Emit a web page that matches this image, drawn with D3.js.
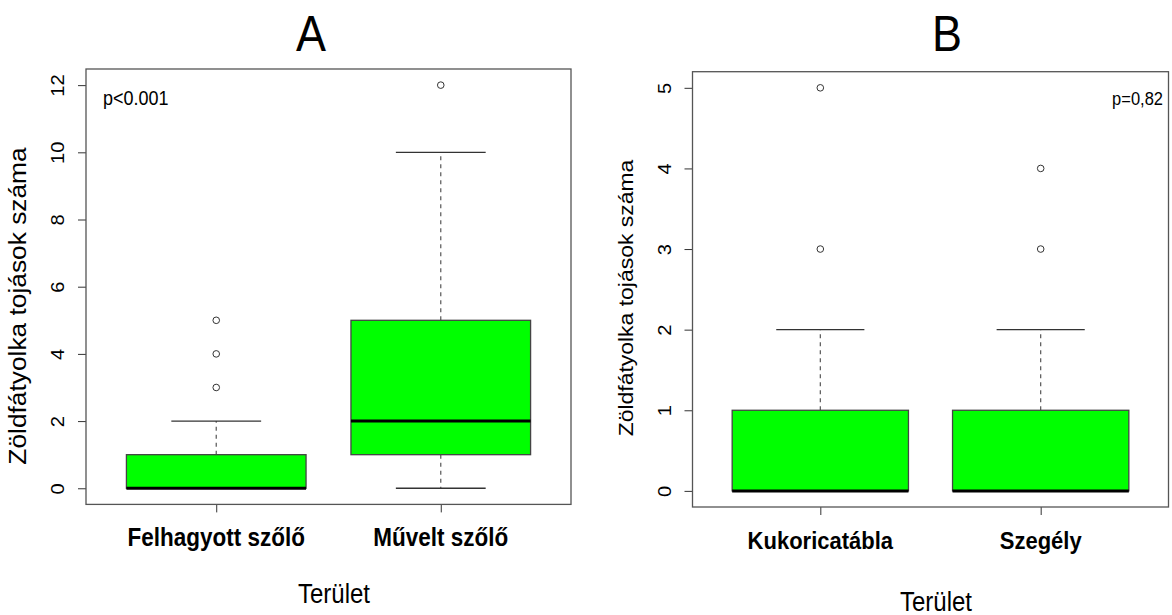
<!DOCTYPE html>
<html>
<head>
<meta charset="utf-8">
<script src="https://cdn.jsdelivr.net/npm/d3@7/dist/d3.min.js"></script>
<style>
  html, body { margin: 0; padding: 0; background: #fff; }
  svg { display: block; font-family: "Liberation Sans", Arial, sans-serif; }
</style>
</head>
<body>
<svg id="chart" width="1172" height="615"></svg>
<script>
// Panel A: abandoned vs cultivated vineyard
const groupsA = ["Felhagyott szőlő", "Művelt szőlő"];
// [lower whisker, Q1, median, Q3, upper whisker]
const statsA = [[0, 0, 0, 1, 2], [0, 1, 2, 5, 10]];
const outliersA = [[3, 4, 5], [12]];
const ticksA = [0, 2, 4, 6, 8, 10, 12];

// Panel B: maize field vs edge
const groupsB = ["Kukoricatábla", "Szegély"];
const statsB = [[0, 0, 0, 1, 2], [0, 0, 0, 1, 2]];
const outliersB = [[3, 5], [3, 4]];
const ticksB = [0, 1, 2, 3, 4, 5];

const svg = d3.select("#chart");
const SY = 1.12; // vertical stretch of the lettering

// text placed at (x, y), stretched vertically, optionally rotated
function label(g, x, y, txt, o) {
  const rot = o.rotate ? " rotate(-90)" : "";
  return g.append("text")
    .attr("transform", `translate(${x},${y}) scale(1,${SY})${rot}`)
    .attr("text-anchor", o.anchor || "middle")
    .attr("font-size", o.size)
    .attr("font-weight", o.weight || "normal")
    .attr("fill", "#000")
    .text(txt);
}

function drawPanel(opt) {
  const g = svg.append("g");
  const x = d3.scaleLinear().domain([0.42, 2.58]).range([opt.left, opt.right]);
  const y = d3.scaleLinear().domain(opt.yDomain).range([opt.bottom, opt.top]);
  const boxW = x(0.8) - x(0);
  const capW = boxW / 2;

  // y axis
  const yAxis = d3.axisLeft(y).tickValues(opt.ticks).tickSize(8).tickFormat(d3.format("d"));
  const ya = g.append("g").attr("transform", `translate(${opt.left},0)`).call(yAxis);
  ya.select(".domain").remove();
  ya.selectAll(".tick line").attr("stroke", "#333");
  ya.selectAll(".tick text")
    .attr("x", null).attr("dy", null)
    .attr("transform", `translate(-22,0) scale(1,${SY}) rotate(-90)`)
    .attr("text-anchor", "middle")
    .attr("font-size", opt.tickSize)
    .attr("fill", "#000");

  // x axis
  const xAxis = d3.axisBottom(x).tickValues([1, 2]).tickSize(8).tickFormat(() => "");
  const xa = g.append("g").attr("transform", `translate(0,${opt.bottom})`).call(xAxis);
  xa.select(".domain").remove();
  xa.selectAll(".tick line").attr("stroke", "#333");

  // category labels
  opt.groups.forEach((d, i) => {
    label(g, x(i + 1), opt.catY, d, { size: opt.catSize, weight: "bold" });
  });

  // whiskers (dashed) and caps
  opt.stats.forEach((s, i) => {
    const cx = x(i + 1);
    g.append("line").attr("x1", cx).attr("x2", cx).attr("y1", y(s[3])).attr("y2", y(s[4]))
      .attr("stroke", "#555").attr("stroke-width", 1.2).attr("stroke-dasharray", "4,4");
    g.append("line").attr("x1", cx).attr("x2", cx).attr("y1", y(s[1])).attr("y2", y(s[0]))
      .attr("stroke", "#555").attr("stroke-width", 1.2).attr("stroke-dasharray", "4,4");
    [s[0], s[4]].forEach(v => {
      g.append("line").attr("x1", cx - capW / 2).attr("x2", cx + capW / 2)
        .attr("y1", y(v)).attr("y2", y(v))
        .attr("stroke", "#333").attr("stroke-width", 1.3);
    });
  });

  // boxes
  g.selectAll(".box").data(opt.stats).join("rect")
    .attr("x", (d, i) => x(i + 1) - boxW / 2)
    .attr("width", boxW)
    .attr("y", d => y(d[3]))
    .attr("height", d => y(d[1]) - y(d[3]))
    .attr("fill", "#00ff00")
    .attr("stroke", "#444")
    .attr("stroke-width", 1.3);

  // medians
  g.selectAll(".med").data(opt.stats).join("line")
    .attr("x1", (d, i) => x(i + 1) - boxW / 2)
    .attr("x2", (d, i) => x(i + 1) + boxW / 2)
    .attr("y1", d => y(d[2])).attr("y2", d => y(d[2]))
    .attr("stroke", "#000").attr("stroke-width", 3);

  // outliers
  opt.outliers.forEach((arr, i) => {
    g.selectAll(null).data(arr).join("circle")
      .attr("cx", x(i + 1)).attr("cy", d => y(d)).attr("r", 3.3)
      .attr("fill", "none").attr("stroke", "#333").attr("stroke-width", 1);
  });

  // frame
  g.append("rect")
    .attr("x", opt.left).attr("y", opt.top)
    .attr("width", opt.right - opt.left).attr("height", opt.bottom - opt.top)
    .attr("fill", "none").attr("stroke", "#555").attr("stroke-width", 1.3);

  // y title
  label(g, opt.left - 60, opt.yTitleY, "Zöldfátyolka tojások száma", { size: opt.yTitleSize, rotate: true });

  // x title
  label(g, opt.xTitleX, opt.xTitleY, "Terület", { size: 24 });

  // panel title
  label(g, opt.titleX, 51, opt.title, { size: 45 });

  // p value
  label(g, opt.pX, opt.pY, opt.pText, { size: opt.pSize, anchor: opt.pAnchor });
}

drawPanel({
  left: 86, right: 571, top: 69, bottom: 504.4,
  yDomain: [-0.48, 12.48], ticks: ticksA, tickSize: 18,
  groups: groupsA, stats: statsA, outliers: outliersA, catSize: 22.5,
  catY: 546, xTitleX: 334, xTitleY: 603,
  yTitleY: 306, yTitleSize: 23.5,
  title: "A", titleX: 311,
  pText: "p<0.001", pX: 103, pY: 105, pAnchor: "start", pSize: 18
});

drawPanel({
  left: 692.5, right: 1168.5, top: 71.7, bottom: 507,
  yDomain: [-0.2, 5.2], ticks: ticksB, tickSize: 18,
  groups: groupsB, stats: statsB, outliers: outliersB, catSize: 22,
  catY: 549, xTitleX: 936, xTitleY: 611,
  yTitleY: 298, yTitleSize: 20.5,
  title: "B", titleX: 947,
  pText: "p=0,82", pX: 1163, pY: 105, pAnchor: "end", pSize: 16.5
});
</script>
</body>
</html>
